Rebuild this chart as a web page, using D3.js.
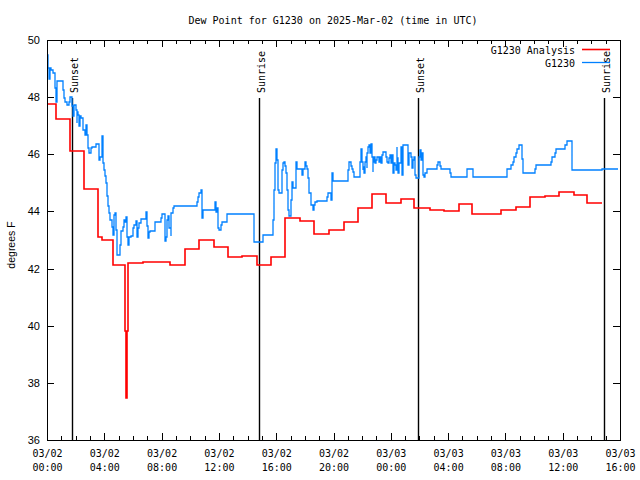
<!DOCTYPE html>
<html><head><meta charset="utf-8">
<script src="https://cdn.jsdelivr.net/npm/d3@7"></script>
<style>body{margin:0;background:#fff}svg{display:block}</style>
</head><body>
<svg id="c" width="640" height="480"></svg>
<script>
const titleText = "Dew Point for G1230 on 2025-Mar-02 (time in UTC)";
const yLabelText = "degrees F";
const startTime = "2025-03-02T00:00:00Z";
const xDomain = ["2025-03-02T00:00:00Z", "2025-03-03T16:00:00Z"];
const yDomain = [36, 50];
const yTicks = [36, 38, 40, 42, 44, 46, 48, 50];
const seriesNames = ["G1230 Analysis", "G1230"];
const seriesColors = ["#ff0000", "#0080ff"];
const sunEvents = ["Sunset", "Sunrise", "Sunset", "Sunrise"];
const sunTimes = ["2025-03-02T01:46:00Z", "2025-03-02T14:49:00Z", "2025-03-03T01:55:00Z", "2025-03-03T14:54:00Z"];

// Analysis series: hours since start, value (step after)
const analysisHours = [0, 0.63, 1.61, 2.60, 3.56, 3.84, 4.61, 5.47, 5.51, 5.58, 5.68, 6.68, 8.62, 9.63, 10.61, 11.66, 12.64, 13.61, 14.64, 15.62, 16.61, 17.66, 18.64, 19.69, 20.73, 21.71, 22.69, 23.66, 24.69, 25.64, 26.74, 27.73, 28.78, 29.69, 31.67, 32.74, 33.72, 34.76, 35.74, 36.79, 37.72, 38.72];
const analysisValues = [47.76, 47.22, 46.12, 44.79, 43.09, 43.0, 42.13, 39.82, 37.47, 39.82, 42.18, 42.24, 42.13, 42.67, 43.0, 42.74, 42.39, 42.44, 42.11, 42.42, 43.76, 43.68, 43.21, 43.35, 43.62, 44.11, 44.60, 44.31, 44.42, 44.11, 44.05, 44.02, 44.25, 43.90, 44.05, 44.17, 44.50, 44.53, 44.68, 44.56, 44.28, 44.28];

// Station observations: hours since start, value (step after)
const obsHours = [
0.00,0.04,0.09,0.15,0.20,0.31,0.44,0.56,0.63,0.68,
0.73,1.14,1.19,1.26,1.38,1.56,1.61,1.77,1.84,1.91,
2.02,2.07,2.12,2.18,2.25,2.30,2.37,2.49,2.53,2.62,
2.72,2.77,2.84,2.95,3.05,3.12,3.42,3.65,3.70,3.84,
3.89,3.93,4.00,4.05,4.12,4.21,4.28,4.35,4.40,4.52,
4.63,4.68,4.75,4.80,4.87,4.91,5.10,5.14,5.19,5.28,
5.38,5.45,5.49,5.56,5.63,5.75,5.84,6.02,6.09,6.19,
6.26,6.30,6.37,6.44,6.54,6.91,6.96,7.07,7.14,7.19,
7.54,7.94,8.01,8.24,8.31,8.40,8.47,8.54,8.64,8.68,
8.77,8.87,10.45,10.52,10.63,10.73,10.80,10.87,11.73,11.80,
11.87,11.94,12.04,12.13,12.24,12.59,14.42,14.47,15.06,15.10,
15.80,15.85,15.92,15.99,16.06,16.10,16.15,16.22,16.43,16.50,
16.57,16.61,16.68,16.77,16.84,16.91,17.01,17.08,17.15,17.38,
17.43,17.78,17.89,18.01,18.08,18.17,18.24,18.31,18.41,18.55,
18.64,18.71,18.83,19.57,19.64,19.80,19.87,19.94,19.99,21.03,
21.10,21.20,21.27,21.34,21.43,21.85,21.90,21.97,22.04,22.08,
22.13,22.20,22.27,22.32,22.36,22.43,22.50,22.55,22.60,22.67,
22.74,22.78,22.85,22.90,22.97,23.02,23.20,23.25,23.32,23.36,
23.43,23.48,23.66,23.76,23.83,23.90,23.94,23.99,24.06,24.13,
24.17,24.22,24.29,24.36,24.41,24.45,24.52,24.59,24.69,24.76,
24.83,25.22,25.29,25.39,25.46,25.53,25.62,25.69,25.76,25.99,
26.04,26.09,26.16,26.23,26.27,26.34,26.39,26.51,27.21,27.28,
27.43,27.50,28.13,28.18,29.30,29.34,29.72,29.76,32.09,32.13,
32.39,32.51,32.60,32.74,32.83,32.93,33.18,33.23,34.10,34.17,
35.16,35.23,35.46,35.53,36.16,36.28,36.67,38.72,39.86];
const obsValues = [
49.48,49.06,49.02,48.64,49.02,48.95,48.85,48.32,47.83,48.32,
48.57,48.25,47.97,47.83,47.73,47.83,48.01,47.69,47.34,47.73,
47.55,47.10,47.48,47.38,46.99,47.34,47.27,46.96,46.85,46.68,
47.03,46.68,46.22,46.05,46.22,46.26,46.36,45.80,45.91,46.64,
45.87,45.70,45.45,45.24,45.00,44.54,44.19,43.95,43.70,43.46,
43.18,43.88,43.95,43.35,42.83,42.48,42.83,43.07,43.32,43.46,
43.70,43.63,43.81,43.11,42.83,43.11,43.14,43.42,43.53,43.67,
43.42,43.11,43.42,43.60,43.74,43.98,43.49,43.07,43.28,43.32,
43.63,43.77,43.91,42.97,43.11,43.70,43.84,43.42,43.14,43.95,
44.12,44.19,44.33,44.51,44.65,44.75,43.77,44.05,44.33,43.98,
44.12,43.42,43.35,43.53,43.63,43.91,43.42,42.93,43.07,43.18,
43.70,44.75,45.70,46.19,45.80,45.28,44.75,44.65,45.45,45.70,
45.73,45.59,45.35,44.75,44.05,43.84,44.40,45.03,44.82,45.73,
45.49,45.28,45.49,45.73,45.59,45.49,45.17,44.65,44.23,44.05,
44.23,44.33,44.37,44.51,44.65,44.40,45.35,45.14,45.07,45.45,
45.73,45.59,45.49,45.38,45.21,45.73,46.19,45.73,45.45,45.56,
45.35,45.73,45.91,45.52,46.05,46.26,46.33,46.05,46.36,45.91,
45.38,45.73,45.91,45.70,45.80,45.91,45.73,45.91,45.70,45.98,
46.05,46.08,45.91,45.73,45.70,45.87,45.98,45.70,45.98,45.87,
45.35,45.70,45.63,45.45,46.26,45.87,45.35,45.70,46.26,45.28,
46.33,45.63,46.05,45.91,45.52,45.80,45.91,45.28,45.17,45.91,
46.15,45.80,46.05,45.63,45.28,45.21,45.35,45.49,45.63,45.73,
45.59,45.49,45.35,45.21,45.35,45.49,45.35,45.21,45.35,45.49,
45.63,45.73,45.91,46.05,46.19,46.33,45.84,45.35,45.49,45.63,
45.73,45.91,46.05,46.19,46.33,46.47,45.45,45.49,45.49];

const MONO = "'DejaVu Sans Mono', monospace";
const SANS = "'Liberation Sans', Arial, sans-serif";

const t0 = new Date(startTime);
const toDate = h => new Date(t0.getTime() + h * 3600000);
const n1 = Math.min(analysisHours.length, analysisValues.length);
const analysis = d3.range(n1).map(i => ({t: toDate(analysisHours[i]), v: analysisValues[i]}));
const n2 = Math.min(obsHours.length, obsValues.length);
const obs = d3.range(n2).map(i => ({t: toDate(obsHours[i]), v: obsValues[i]}));

const W = 640, H = 480;
const M = {l: 47, r: 620, t: 40, b: 440};
const svg = d3.select("#c");
svg.append("rect").attr("width", W).attr("height", H).attr("fill", "#fff");

const x = d3.scaleUtc().domain(xDomain.map(s => new Date(s))).range([M.l, M.r]);
const y = d3.scaleLinear().domain(yDomain).range([M.b, M.t]);

// title
svg.append("text").attr("x", 333).attr("y", 24).attr("text-anchor", "middle")
  .attr("font-family", MONO).attr("font-size", 10).attr("fill", "#000").text(titleText);

// y label
svg.append("text").attr("transform", "translate(15,245) rotate(-90)")
  .attr("text-anchor", "middle").attr("font-family", SANS).attr("font-size", 10.5)
  .attr("fill", "#000").text(yLabelText);

// axes
function styleAxis(g) {
  g.select(".domain").remove();
  g.selectAll(".tick line").attr("stroke", "#000").attr("shape-rendering", "crispEdges");
}
const major = d3.utcHour.every(4), minor = d3.utcHour.every(1);
const fmtD = d3.utcFormat("%m/%d"), fmtH = d3.utcFormat("%H:%M");

svg.append("g").attr("transform", `translate(0,${M.b})`)
  .call(d3.axisBottom(x).ticks(minor).tickSize(-4).tickSizeOuter(0).tickFormat(""))
  .call(styleAxis);
const gxb = svg.append("g").attr("transform", `translate(0,${M.b})`)
  .call(d3.axisBottom(x).ticks(major).tickSize(-7).tickSizeOuter(0).tickFormat(fmtD))
  .call(styleAxis);
gxb.selectAll(".tick text").each(function(d) {
  const t = d3.select(this);
  t.text(null).attr("dy", null).attr("y", null);
  t.append("tspan").attr("x", 0).attr("y", 17).text(fmtD(d));
  t.append("tspan").attr("x", 0).attr("y", 31).text(fmtH(d));
}).attr("font-family", MONO).attr("font-size", 10).attr("fill", "#000");

svg.append("g").attr("transform", `translate(0,${M.t})`)
  .call(d3.axisTop(x).ticks(minor).tickSize(-4).tickSizeOuter(0).tickFormat(""))
  .call(styleAxis);
svg.append("g").attr("transform", `translate(0,${M.t})`)
  .call(d3.axisTop(x).ticks(major).tickSize(-7).tickSizeOuter(0).tickFormat(""))
  .call(styleAxis);

const gyl = svg.append("g").attr("transform", `translate(${M.l},0)`)
  .call(d3.axisLeft(y).tickValues(yTicks).tickSize(-7).tickPadding(7).tickSizeOuter(0).tickFormat(d3.format("d")))
  .call(styleAxis);
gyl.selectAll(".tick text").attr("font-family", SANS).attr("font-size", 11).attr("fill", "#000");
svg.append("g").attr("transform", `translate(${M.r},0)`)
  .call(d3.axisRight(y).tickValues(yTicks).tickSize(-7).tickSizeOuter(0).tickFormat(""))
  .call(styleAxis);

// sunrise / sunset markers
const sun = svg.append("g");
sunTimes.forEach((s, i) => {
  const sx = Math.round(x(new Date(s))) + 0.5;
  sun.append("line").attr("x1", sx).attr("x2", sx).attr("y1", 98).attr("y2", M.b)
    .attr("stroke", "#000").attr("stroke-width", 1.4);
  sun.append("text").attr("transform", `translate(${sx + 5},93) rotate(-90)`)
    .attr("font-family", MONO).attr("font-size", 10).attr("fill", "#000").text(sunEvents[i]);
});

// series (pixel-snapped step lines)
const line = d3.line().x(d => Math.round(x(d.t))).y(d => Math.round(y(d.v))).curve(d3.curveStepAfter);
svg.append("path").datum(analysis).attr("d", line).attr("fill", "none")
  .attr("stroke", seriesColors[0]).attr("stroke-width", 1.6);
svg.append("path").datum(obs).attr("d", line).attr("fill", "none")
  .attr("stroke", seriesColors[1]).attr("stroke-width", 1.3);

// border
svg.append("rect").attr("x", M.l + 0.5).attr("y", M.t + 0.5)
  .attr("width", M.r - M.l).attr("height", M.b - M.t)
  .attr("fill", "none").attr("stroke", "#000").attr("stroke-width", 1).attr("shape-rendering", "crispEdges");

// legend
const leg = svg.append("g");
seriesNames.forEach((name, i) => {
  const ly = 50 + i * 13;
  leg.append("text").attr("x", 575).attr("y", ly + 3.5).attr("text-anchor", "end")
    .attr("font-family", MONO).attr("font-size", 10).attr("fill", "#000").text(name);
  leg.append("line").attr("x1", 582).attr("x2", 610).attr("y1", ly - 0.5).attr("y2", ly - 0.5)
    .attr("stroke", seriesColors[i]).attr("stroke-width", i === 0 ? 1.6 : 1.3);
});
</script>
</body></html>
